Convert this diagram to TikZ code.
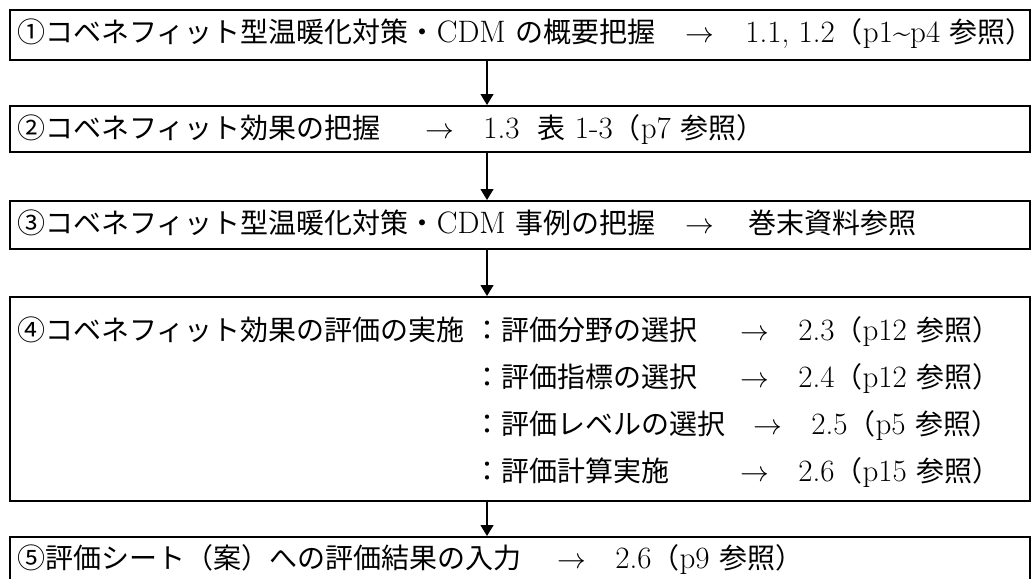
\documentclass[tikz,border=0pt]{standalone}
\usepackage{fontspec}
\usetikzlibrary{arrows.meta,positioning}
\newfontfamily\jpfont{Noto Sans CJK JP}
\newcommand{\J}[1]{{\jpfont\fontsize{14}{17}\selectfont #1}}
\tikzset{
  stepbox/.style={draw,line width=1pt,minimum width=510pt,inner sep=0pt},
  flow/.style={line width=0.6pt,-{Triangle[length=5.5pt,width=6.5pt]}},
  txt/.style={inner sep=0pt,anchor=base west,font=\fontsize{15.5}{18}\selectfont},
  arr/.style={inner sep=0pt,anchor=base,font=\fontsize{14}{17}\selectfont}
}

\begin{document}
\begin{tikzpicture}[x=0.5pt,y=-0.5pt]
\useasboundingbox (0,0) rectangle (1031,578);
\clip (0,0) rectangle (1031,578);

\node[stepbox,minimum height=25pt] (b1) at (520,35) {};
\node[stepbox,minimum height=23pt] (b2) at (520,129) {};
\node[stepbox,minimum height=24pt] (b3) at (520,225) {};
\node[stepbox,minimum height=102pt] (b4) at (520,399) {};
\node[stepbox,minimum height=22pt] (b5) at (520,559) {};

\coordinate (ax) at (487,0);
\draw[flow] (b1.south -| ax) -- (b2.north -| ax);
\draw[flow] (b2.south -| ax) -- (b3.north -| ax);
\draw[flow] (b3.south -| ax) -- (b4.north -| ax);
\draw[flow] (b4.south -| ax) -- (b5.north -| ax);

% (1)
\node[txt] (t1) at (17,42) {\J{①コベネフィット型温暖化対策・}CDM\ \J{の概要把握}};
\node[arr] (a1) at (700,42) {$\rightarrow$};
\node[txt] (r1) at (745,42) {1.1, 1.2\J{（}p1\textasciitilde p4\ \J{参照）}};

% (2)
\node[txt] (t2) at (17,138) {\J{②コベネフィット効果の把握}};
\node[arr] (a2) at (440,138) {$\rightarrow$};
\node[txt] (r2) at (483,138) {1.3\hspace{9pt}\J{表}\ 1-3\J{（}p7\ \J{参照）}};

% (3)
\node[txt] (t3) at (17,233) {\J{③コベネフィット型温暖化対策・}CDM\ \J{事例の把握}};
\node[arr] (a3) at (700,233) {$\rightarrow$};
\node[txt] (r3) at (748,233) {\J{巻末資料参照}};

% (4)
\node[txt] (t4) at (17,340) {\J{④コベネフィット効果の評価の実施}};
\node[txt] (s1) at (473,340) {\J{：評価分野の選択}};
\node[arr] (a4) at (755,340) {$\rightarrow$};
\node[txt] (r4) at (798,340) {2.3\J{（}p12\ \J{参照）}};
\node[txt] (s2) at (473,387) {\J{：評価指標の選択}};
\node[arr] (a5) at (755,387) {$\rightarrow$};
\node[txt] (r5) at (798,387) {2.4\J{（}p12\ \J{参照）}};
\node[txt] (s3) at (473,434) {\J{：評価レベルの選択}};
\node[arr] (a6) at (768,434) {$\rightarrow$};
\node[txt] (r6) at (811,434) {2.5\J{（}p5\ \J{参照）}};
\node[txt] (s4) at (473,481) {\J{：評価計算実施}};
\node[arr] (a7) at (755,481) {$\rightarrow$};
\node[txt] (r7) at (798,481) {2.6\J{（}p15\ \J{参照）}};

% (5)
\node[txt] (t5) at (17,568) {\J{⑤評価シート（案）への評価結果の入力}};
\node[arr] (a8) at (572,568) {$\rightarrow$};
\node[txt] (r8) at (615,568) {2.6\J{（}p9\ \J{参照）}};
\end{tikzpicture}
\end{document}
